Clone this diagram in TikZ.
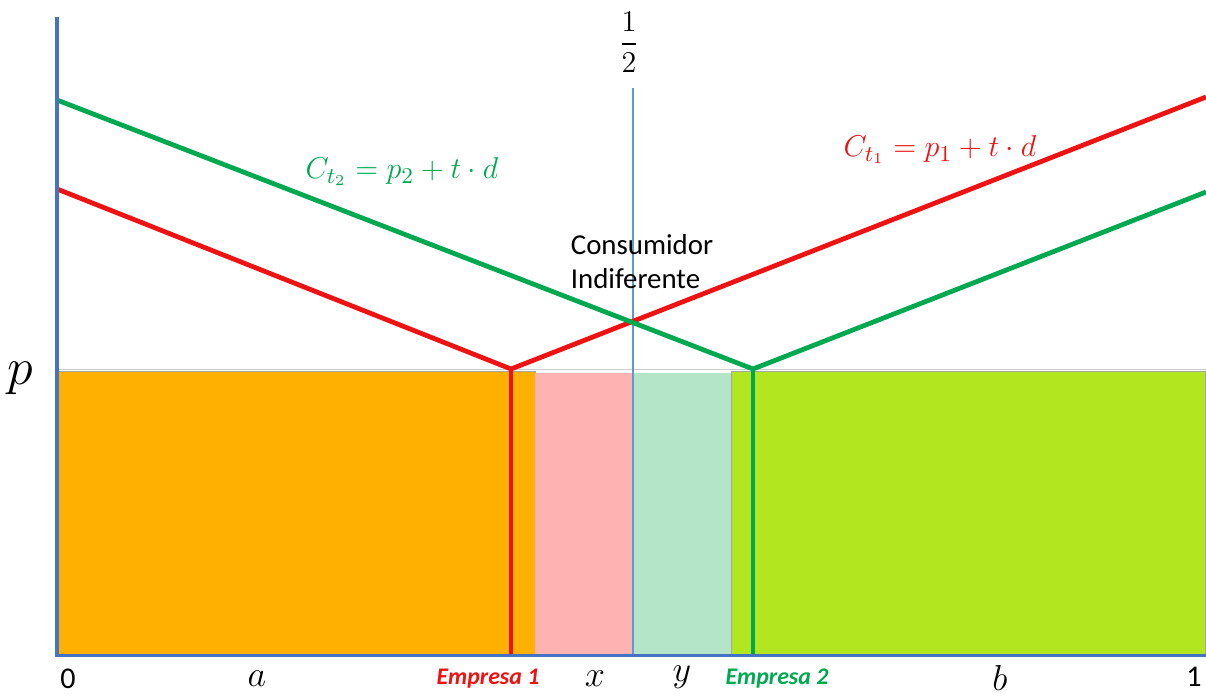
\documentclass[tikz,border=0pt]{standalone}
\usepackage{amsmath}
\usepackage{fontspec}
\setsansfont{Carlito}
\usetikzlibrary{positioning}
\definecolor{axisblue}{RGB}{68,114,196}
\definecolor{halfblue}{RGB}{91,155,213}
\definecolor{costred}{RGB}{238,18,18}
\definecolor{costgreen}{RGB}{0,168,80}
\definecolor{areaorange}{RGB}{255,176,0}
\definecolor{areapink}{RGB}{255,178,178}
\definecolor{areamint}{RGB}{180,229,200}
\definecolor{arealime}{RGB}{178,230,30}

\begin{document}
\begin{tikzpicture}[x=0.014cm,y=-0.014cm,
  cost/.style={line width=1.9pt,line join=round},
  area/.style={draw=gray!70,line width=0.3pt},
  lab/.style={font=\Large},
  firm/.style={font=\sffamily\bfseries\itshape\fontsize{9.5}{11}\selectfont}]
\useasboundingbox (0,0) rectangle (1206,697);
% market shares
\filldraw[area,fill=areaorange] (57,371) rectangle (535,655);
\filldraw[area,fill=areapink,draw=none] (535,373) rectangle (633,655);
\filldraw[area,fill=areamint,draw=none] (633,373) rectangle (731,655);
\filldraw[area,fill=arealime] (731,371) rectangle (1205,655);
\draw[gray!40,line width=0.4pt] (57,369) -- (1206,369);
\draw[halfblue,line width=0.5pt] (633,88) -- (633,655);
% firms and indifferent consumer
\coordinate (f1) at (511,369);
\coordinate (f2) at (753,369);
\draw[cost,costred] (57,189) -- (f1) -- (1206,97);
\draw[cost,costred] (f1) -- (511,655);
\draw[cost,costgreen] (57,100) -- (f2) -- (1206,192);
\draw[cost,costgreen] (f2) -- (753,655);
% axes
\draw[axisblue,line width=1.2pt] (57,17) -- (57,655) -- (1206,655);
% labels
\node[font=\large] (half) at (629,42) {$\dfrac{1}{2}$};
\node[font=\huge] (p) at (20,378) {$p$};
\node[text=costgreen,font=\fontsize{13}{15}\selectfont] (ct2) at (402,172) {$C_{t_2}=p_2+t\cdot d$};
\node[text=costred,font=\fontsize{13}{15}\selectfont] (ct1) at (940,150) {$C_{t_1}=p_1+t\cdot d$};
\node[font=\sffamily\fontsize{11.5}{13.5}\selectfont,align=left,anchor=north west] (ci) at (562,226) {Consumidor\\Indiferente};
\node[font=\sffamily\fontsize{12}{14}\selectfont] (zero) at (68,679) {0};
\node[font=\sffamily\fontsize{12}{14}\selectfont] (one) at (1194,677) {1};
\node[lab] (a) at (257,679) {$a$};
\node[lab] (b) at (1000,678) {$b$};
\node[lab] (x) at (595,679) {$x$};
\node[lab] (y) at (682,677) {$y$};
\node[firm,text=costred] (e1) at (488,679) {Empresa 1};
\node[firm,text=costgreen] (e2) at (777,679) {Empresa 2};
\end{tikzpicture}
\end{document}
